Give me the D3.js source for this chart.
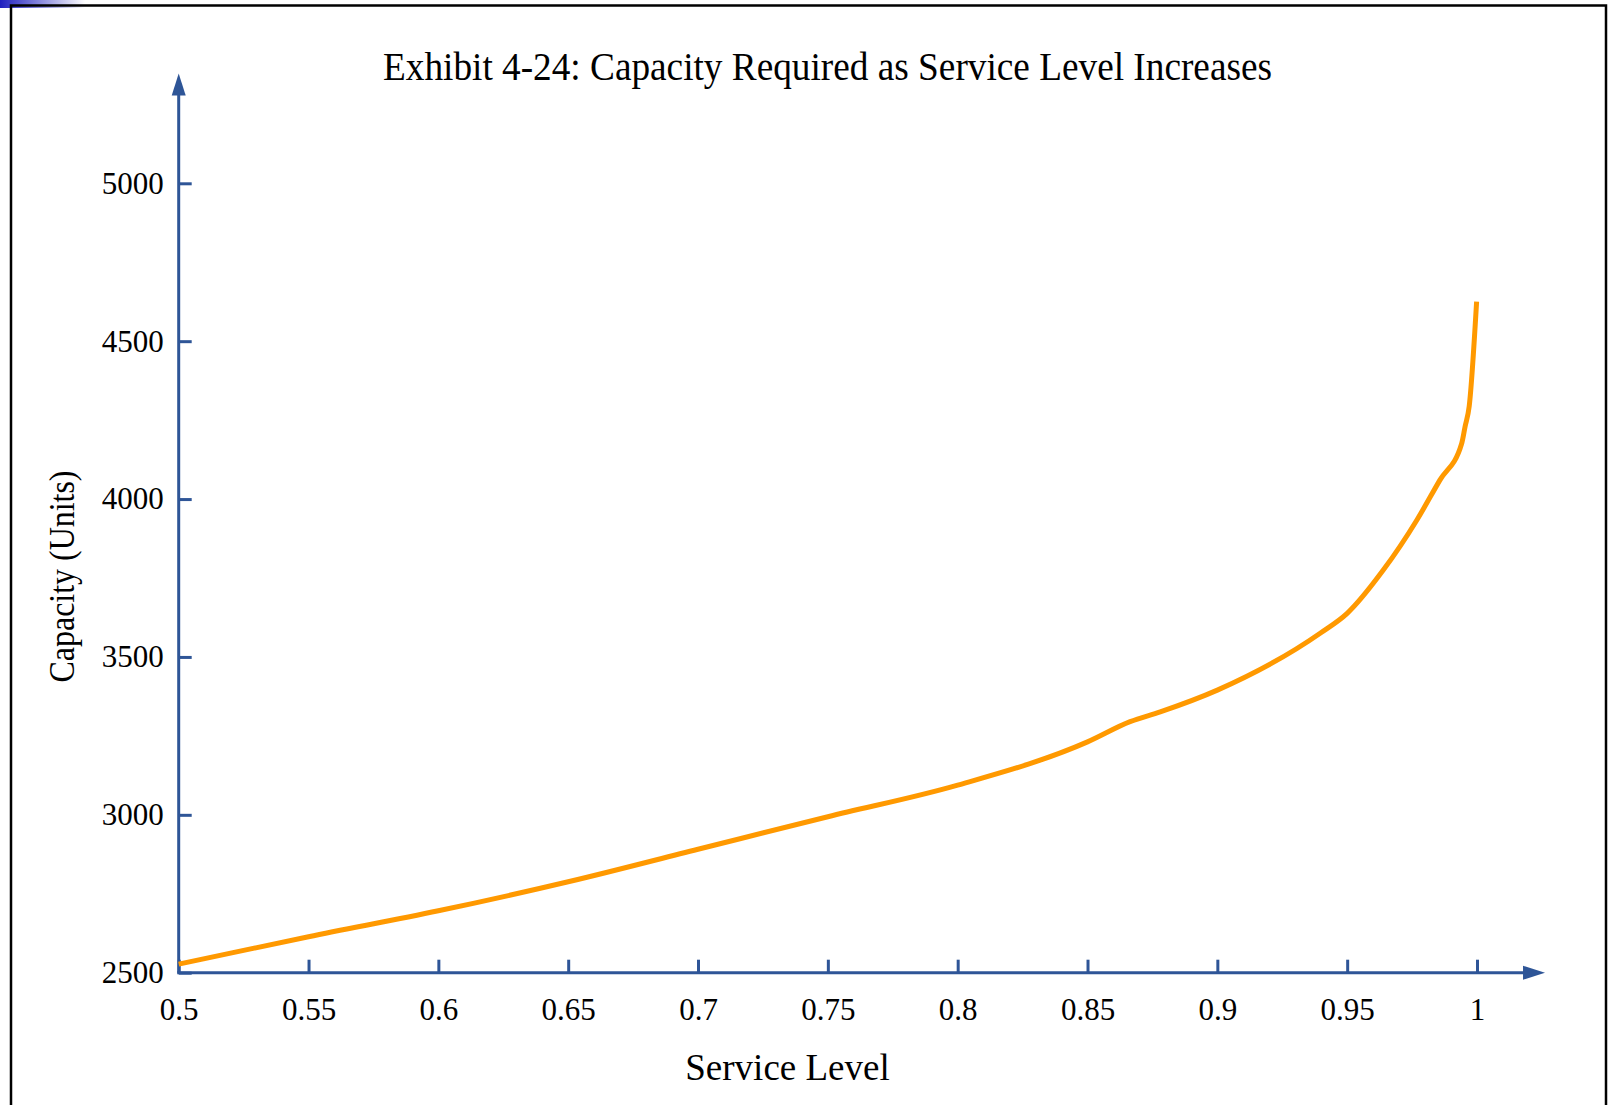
<!DOCTYPE html>
<html>
<head>
<meta charset="utf-8">
<script src="https://cdn.jsdelivr.net/npm/d3@7"></script>
<style>
  body { margin: 0; background: #fff; }
  svg text { font-family: "Times New Roman", "Liberation Serif", serif; fill: #000; }
</style>
</head>
<body>
<svg width="1610" height="1105"></svg>
<script>
const serviceLevel = [0.5, 0.55, 0.6, 0.65, 0.7, 0.75, 0.8, 0.85, 0.8664, 0.878, 0.9, 0.9396, 0.95, 0.9639, 0.9768, 0.9857, 0.9941, 0.9954, 0.997, 0.99985];
const capacity = [2527, 2614, 2696, 2788, 2891, 2994, 3094, 3231, 3295, 3326, 3395, 3575, 3638, 3775, 3933, 4060, 4176, 4229, 4294, 4625];
const xTicks = [0.5, 0.55, 0.6, 0.65, 0.7, 0.75, 0.8, 0.85, 0.9, 0.95, 1];
const xTickLabels = ['0.5', '0.55', '0.6', '0.65', '0.7', '0.75', '0.8', '0.85', '0.9', '0.95', '1'];
const yTicks = [2500, 3000, 3500, 4000, 4500, 5000];
const yTickLabels = ['2500', '3000', '3500', '4000', '4500', '5000'];

const data = serviceLevel.map((s, i) => ({ s: s, c: capacity[i] }));

const axisColor = '#2e5597';
const svg = d3.select('svg');

// corner strip and frame
const defs = svg.append('defs');
const grad = defs.append('linearGradient').attr('id', 'corner');
grad.append('stop').attr('offset', '0%').attr('stop-color', '#1f1fbf');
grad.append('stop').attr('offset', '100%').attr('stop-color', '#ffffff');
svg.append('rect').attr('x', 0).attr('y', 0).attr('width', 85).attr('height', 8).attr('fill', 'url(#corner)');
svg.append('rect')
    .attr('x', 11).attr('y', 5.5)
    .attr('width', 1595).attr('height', 1200)
    .attr('fill', 'none').attr('stroke', '#000').attr('stroke-width', 2.5);

const x = d3.scaleLinear().domain([0.5, 1]).range([178.7, 1477]);
const y = d3.scaleLinear().domain([2500, 5000]).range([972.7, 183.3]);

const xEnd = 1.0262, yEnd = 5348;

// y axis
const gy = svg.append('g')
    .attr('transform', 'translate(' + x(0.5) + ',0)')
    .call(d3.axisLeft(y)
        .tickValues(yTicks)
        .tickFormat((d, i) => yTickLabels[i])
        .tickSizeInner(-13)
        .tickSizeOuter(0)
        .tickPadding(15));
gy.select('.domain').remove();
gy.selectAll('.tick line').attr('stroke', axisColor).attr('stroke-width', 3);
gy.selectAll('.tick text').style('font-size', '31px').attr('fill', '#000');

// x axis
const gx = svg.append('g')
    .attr('transform', 'translate(0,' + y(2500) + ')')
    .call(d3.axisBottom(x)
        .tickValues(xTicks)
        .tickFormat((d, i) => xTickLabels[i])
        .tickSizeInner(-13)
        .tickSizeOuter(0)
        .tickPadding(25));
gx.select('.domain').remove();
gx.selectAll('.tick line').attr('stroke', axisColor).attr('stroke-width', 3);
gx.selectAll('.tick text').style('font-size', '31px').attr('fill', '#000');

// axis lines with arrow heads
svg.append('line')
    .attr('x1', x(0.5)).attr('y1', y(2500))
    .attr('x2', x(0.5)).attr('y2', y(yEnd) + 20)
    .attr('stroke', axisColor).attr('stroke-width', 3);
svg.append('path')
    .attr('d', `M${x(0.5)} ${y(yEnd)} L${x(0.5) - 7} ${y(yEnd) + 22} L${x(0.5) + 7} ${y(yEnd) + 22} Z`)
    .attr('fill', axisColor);
svg.append('line')
    .attr('x1', x(0.5) - 1.5).attr('y1', y(2500))
    .attr('x2', x(xEnd) - 20).attr('y2', y(2500))
    .attr('stroke', axisColor).attr('stroke-width', 3);
svg.append('path')
    .attr('d', `M${x(xEnd)} ${y(2500)} L${x(xEnd) - 22} ${y(2500) - 7} L${x(xEnd) - 22} ${y(2500) + 7} Z`)
    .attr('fill', axisColor);

// curve
const line = d3.line()
    .x(d => x(d.s))
    .y(d => y(d.c))
    .curve(d3.curveMonotoneX);
svg.append('path')
    .datum(data)
    .attr('d', line)
    .attr('fill', 'none')
    .attr('stroke', '#ff9900')
    .attr('stroke-width', 5)
    .attr('stroke-linejoin', 'round');

// titles
svg.append('text')
    .attr('x', 827.5).attr('y', 80)
    .attr('text-anchor', 'middle')
    .attr('textLength', 889).attr('lengthAdjust', 'spacingAndGlyphs')
    .style('font-size', '40px')
    .text('Exhibit 4-24: Capacity Required as Service Level Increases');

svg.append('text')
    .attr('x', 787.5).attr('y', 1080)
    .attr('text-anchor', 'middle')
    .style('font-size', '37px')
    .text('Service Level');

svg.append('text')
    .attr('transform', 'translate(73.5,576.5) rotate(-90)')
    .attr('text-anchor', 'middle')
    .attr('textLength', 212).attr('lengthAdjust', 'spacingAndGlyphs')
    .style('font-size', '35px')
    .text('Capacity (Units)');
</script>
</body>
</html>
